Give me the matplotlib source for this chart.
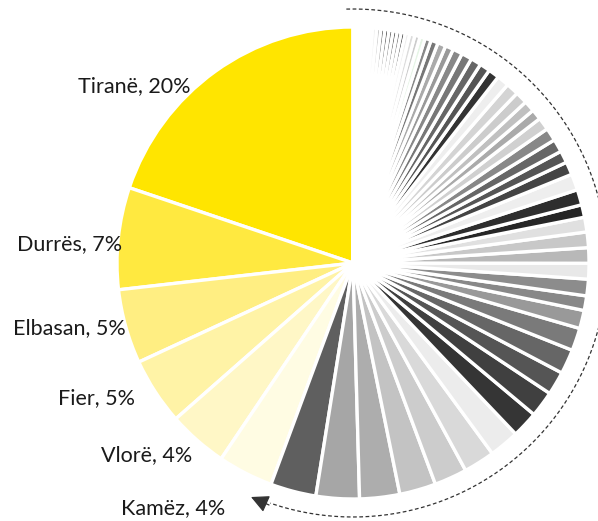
import numpy as np
import matplotlib.pyplot as plt

# share of population by municipality (%), named ones first
names = ["Tiranë", "Durrës", "Elbasan", "Fier", "Vlorë", "Kamëz"]
named_share = [19.9, 7.0, 5.1, 4.6, 4.1, 3.8]
named_colors = ["#ffe500", "#ffe940", "#ffee82", "#fff3a6", "#fff7c6", "#fffce3"]

# the remaining municipalities, unlabelled
other_share = [3.14, 2.97, 2.75, 2.50, 2.25, 2.14, 2.06, 1.81, 1.78, 1.61,
               1.69, 1.56, 1.25, 1.00, 1.14, 1.08, 1.06, 1.07, 1.01, 0.86,
               1.06, 1.11, 0.89, 0.83, 0.89, 0.89, 0.86, 0.72, 0.75, 0.83,
               0.86, 0.83, 0.75, 0.72, 0.72, 0.72, 0.67, 0.56, 0.56, 0.50,
               0.42, 0.36, 0.36, 0.36, 0.31, 0.28, 0.28, 0.28, 0.28, 0.28,
               0.28, 0.28, 0.28, 0.19, 0.19, 0.19, 0.19, 0.19, 0.19, 0.19]
other_colors = ["#5f5f5f", "#a6a6a6", "#adadad", "#c3c3c3", "#cccccc",
                "#d9d9d9", "#ececec", "#353535", "#404040", "#555555",
                "#666666", "#7a7a7a", "#999999", "#888888", "#8c8c8c",
                "#e8e8e8", "#b8b8b8", "#c8c8c8", "#e0e0e0", "#262626",
                "#2e2e2e", "#eeeeee", "#444444", "#555555", "#666666",
                "#888888", "#d0d0d0", "#aaaaaa", "#c0c0c0", "#cccccc",
                "#d4d4d4", "#eeeeee", "#333333", "#555555", "#666666",
                "#777777", "#888888", "#999999", "#aaaaaa", "#777777",
                "#888888", "#e6f5e6", "#cccccc", "#dddddd", "#eeeeee",
                "#222222", "#555555", "#333333", "#444444", "#333333",
                "#555555", "#bbbbbb", "#eeeeee", "#f4f4f4", "#f4f4f4",
                "#f4f4f4", "#f4f4f4", "#f4f4f4", "#f4f4f4", "#f4f4f4"]

# label anchors (right edge, centre line) in pixels from top-left
label_x = [190, 122, 126, 135, 192, 225]
label_y = [86, 244, 328, 398, 455, 508]

W, H = 598, 521
fig = plt.figure(figsize=(W / 100, H / 100), dpi=100)
ax = fig.add_axes([0, 0, 1, 1])

cx, cy, r = 353, H - 263, 236
ax.pie(named_share + other_share, colors=named_colors + other_colors,
       startangle=90, counterclock=True, center=(cx, cy), radius=r,
       wedgeprops=dict(edgecolor="white", linewidth=2.4))

for name, v, x, y in zip(names, named_share, label_x, label_y):
    ax.text(x, H - y, f"{name}, {v:.0f}%", ha="right", va="center",
            fontsize=15.5, family="Lato", color="#1a1a1a")

# dashed arc running clockwise over the grey wedges, ending in an arrow
ra = 254
t = np.radians(np.linspace(91.5, -109, 300))
ax.plot(cx + ra * np.cos(t), cy + ra * np.sin(t),
        color="#333333", lw=0.9, ls=(0, (3, 2)))
ax.annotate("", xy=(251, H - 497), xytext=(269, H - 505),
            arrowprops=dict(arrowstyle="-|>,head_length=0.9,head_width=0.45",
                            color="#333333", lw=0.9, mutation_scale=12,
                            shrinkA=0, shrinkB=0))

ax.set_xlim(0, W)
ax.set_ylim(0, H)
ax.set_aspect("equal")
ax.axis("off")
fig.savefig("out.png", dpi=100)
